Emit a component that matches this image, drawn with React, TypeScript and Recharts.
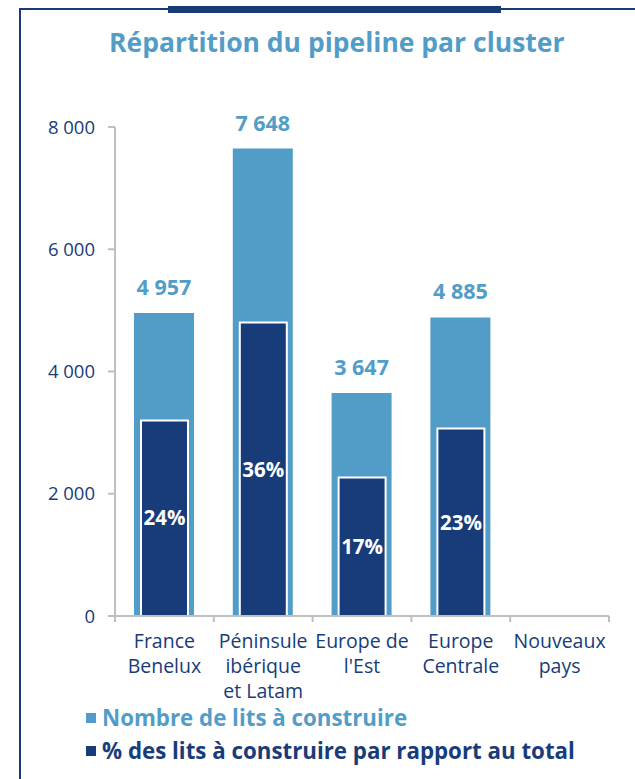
import { BarChart, Bar, XAxis, YAxis, LabelList } from "recharts";

const clusterLines = [
  ["France", "Benelux"],
  ["Péninsule", "ibérique", "et Latam"],
  ["Europe de", "l'Est"],
  ["Europe", "Centrale"],
  ["Nouveaux", "pays"],
];
const clusters = clusterLines.map((l) => l.join(" "));
const bedsToBuild = [4957, 7648, 3647, 4885, null];
const shareOfTotal = [24, 36, 17, 23, null];
const yTicks = [0, 2000, 4000, 6000, 8000];

const LIGHT = "#529dc8";
const NAVY = "#173c79";
const AXIS = "#bfbfbf";
const FONT = "'Open Sans', 'Noto Sans', sans-serif";

const data = clusters.map((name, i) => ({
  name,
  beds: bedsToBuild[i],
  share: shareOfTotal[i],
}));

const fmtThousands = (v: number) => String(v).replace(/\B(?=(\d{3})+(?!\d))/g, " ");

function CategoryTick(props: any) {
  const { x, y, payload, index, visibleTicksCount } = props;
  const half = payload.offset ?? 49.4;
  const lines = clusterLines[index] ?? [String(payload.value)];
  const last = index === (visibleTicksCount ?? 5) - 1;
  return (
    <g>
      <line x1={x - half} x2={x - half} y1={y} y2={y + 6} stroke={AXIS} strokeWidth={2} />
      {last && <line x1={x + half} x2={x + half} y1={y} y2={y + 6} stroke={AXIS} strokeWidth={2} />}
      <text x={x} y={y + 32} textAnchor="middle" fill={NAVY} fontSize={19.5} fontFamily={FONT}>
        {lines.map((t: string, k: number) => (
          <tspan key={k} x={x} dy={k === 0 ? 0 : 25}>
            {t}
          </tspan>
        ))}
      </text>
    </g>
  );
}

export default function App() {
  return (
    <div style={{ position: "absolute", left: 0, top: 0, width: 635, height: 779, background: "#fff", overflow: "hidden", fontFamily: FONT }}>
      {/* frame */}
      <div style={{ position: "absolute", left: 19, top: 8, right: 0, bottom: 0, borderLeft: `2px solid ${NAVY}`, borderTop: `2px solid ${NAVY}` }} />
      <div style={{ position: "absolute", left: 168, top: 6, width: 333, height: 7, background: NAVY }} />
      <div style={{ position: "absolute", left: 109, top: 25, width: 449, textAlign: "center", color: LIGHT, fontWeight: 700, fontSize: 26.5, lineHeight: "34px", whiteSpace: "nowrap" }}>
        Répartition du pipeline par cluster
      </div>

      <div style={{ position: "absolute", left: 0, top: 0 }}>
        <BarChart width={635} height={779} data={data} margin={{ top: 127, right: 26, left: 55, bottom: 43 }}>
          <XAxis
            xAxisId="main"
            dataKey="name"
            height={120}
            axisLine={{ stroke: AXIS, strokeWidth: 2 }}
            tickLine={false}
            tickSize={0}
            tickMargin={0}
            interval={0}
            tick={<CategoryTick />}
          />
          <XAxis xAxisId="overlay" dataKey="name" hide />
          <YAxis
            yAxisId="beds"
            width={60}
            domain={[0, 8000]}
            ticks={yTicks}
            tickFormatter={fmtThousands}
            axisLine={{ stroke: AXIS, strokeWidth: 2 }}
            tickLine={{ stroke: AXIS, strokeWidth: 2 }}
            tickSize={7}
            tickMargin={13}
            tick={{ fill: NAVY, fontSize: 18.5, fontFamily: FONT }}
          />
          <YAxis yAxisId="share" orientation="right" domain={[0, 60]} hide />
          <Bar xAxisId="main" yAxisId="beds" dataKey="beds" fill={LIGHT} barSize={60} isAnimationActive={false}>
            <LabelList
              dataKey="beds"
              position="top"
              offset={18}
              formatter={(v: any) => (v == null ? "" : fmtThousands(v))}
              style={{ fill: LIGHT, fontSize: 21.5, fontWeight: 700, fontFamily: FONT }}
            />
          </Bar>
          <Bar xAxisId="overlay" yAxisId="share" dataKey="share" fill={NAVY} stroke="#ffffff" strokeWidth={2} barSize={47} isAnimationActive={false}>
            <LabelList
              dataKey="share"
              position="center"
              formatter={(v: any) => (v == null ? "" : `${v}%`)}
              style={{ fill: "#ffffff", fontSize: 20.5, fontWeight: 700, fontFamily: FONT }}
            />
          </Bar>
        </BarChart>
      </div>

      {/* legend */}
      {[
        { label: "Nombre de lits à construire", color: LIGHT, top: 707 },
        { label: "% des lits à construire par rapport au total", color: NAVY, top: 740 },
      ].map((it) => (
        <div key={it.label} style={{ position: "absolute", left: 86, top: it.top, display: "flex", alignItems: "center", whiteSpace: "nowrap" }}>
          <span style={{ width: 10, height: 10, background: it.color, display: "inline-block", marginRight: 6 }} />
          <span style={{ color: it.color, fontWeight: 700, fontSize: 22.3, lineHeight: "22px" }}>{it.label}</span>
        </div>
      ))}
    </div>
  );
}
